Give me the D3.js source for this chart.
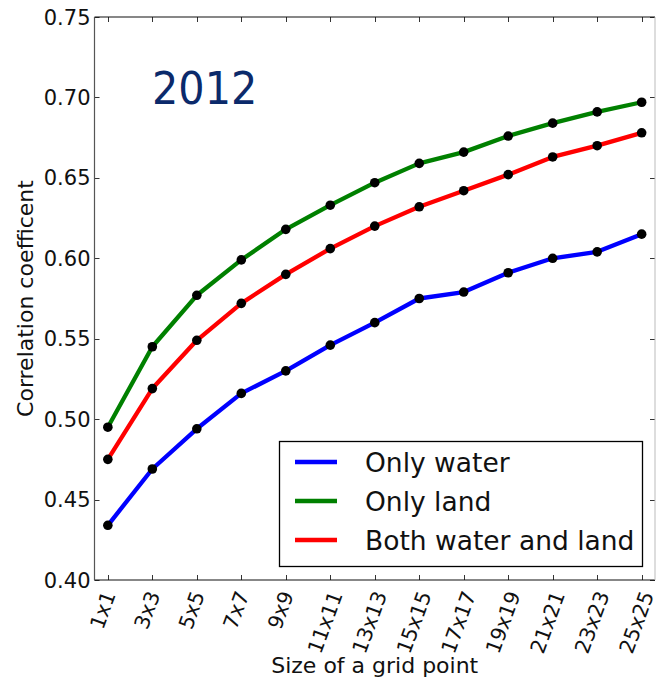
<!DOCTYPE html>
<html>
<head>
<meta charset="utf-8">
<script src="https://cdn.jsdelivr.net/npm/d3@7"></script>
<style>
  html, body { margin: 0; padding: 0; background: #fff; }
  svg { display: block; }
  text { font-family: "DejaVu Sans", sans-serif; fill: #111; }
</style>
</head>
<body>
<svg id="chart" width="656" height="682"></svg>
<script>
// Grid-point window sizes along the x axis
const categories = ["1x1", "3x3", "5x5", "7x7", "9x9", "11x11", "13x13",
                    "15x15", "17x17", "19x19", "21x21", "23x23", "25x25"];

// Correlation coefficient per window size
const onlyWater = [0.434, 0.469, 0.494, 0.516, 0.530, 0.546, 0.560,
                   0.575, 0.579, 0.591, 0.600, 0.604, 0.615];
const onlyLand  = [0.495, 0.545, 0.577, 0.599, 0.618, 0.633, 0.647,
                   0.659, 0.666, 0.676, 0.684, 0.691, 0.697];
const both      = [0.475, 0.519, 0.549, 0.572, 0.590, 0.606, 0.620,
                   0.632, 0.642, 0.652, 0.663, 0.670, 0.678];

const yTicks = [0.40, 0.45, 0.50, 0.55, 0.60, 0.65, 0.70, 0.75];

const seriesNames  = ["Only water", "Only land", "Both water and land"];
const seriesColors = ["#0000ff", "#008000", "#ff0000"];
const seriesValues = [onlyWater, onlyLand, both];

const yearLabel = "2012";
const xTitle = "Size of a grid point";
const yTitle = "Correlation coefficent";

const svg = d3.select("#chart");
const plotLeft = 94.5, plotRight = 655, plotTop = 17, plotBottom = 580;

const x = d3.scaleLinear().domain([-0.3, categories.length - 1 + 0.3]).range([plotLeft, plotRight]);
const y = d3.scaleLinear().domain([0.40, 0.75]).range([plotBottom, plotTop]);

// Inward ticks on all four sides
const tickLen = 5;
const ticks = svg.append("g").attr("stroke", "#333").attr("stroke-width", 1);
categories.forEach((c, i) => {
  const px = Math.round(x(i)) + 0.5;
  ticks.append("line").attr("x1", px).attr("x2", px).attr("y1", plotBottom).attr("y2", plotBottom - tickLen);
  ticks.append("line").attr("x1", px).attr("x2", px).attr("y1", plotTop).attr("y2", plotTop + tickLen);
});
yTicks.forEach(v => {
  const py = Math.round(y(v)) + 0.5;
  ticks.append("line").attr("x1", plotLeft).attr("x2", plotLeft + tickLen).attr("y1", py).attr("y2", py);
  ticks.append("line").attr("x1", plotRight).attr("x2", plotRight - tickLen).attr("y1", py).attr("y2", py);
});

// Series lines
const line = d3.line().x((d, i) => x(i)).y(d => y(d));
seriesValues.forEach((vals, k) => {
  svg.append("path").datum(vals)
    .attr("d", line)
    .attr("fill", "none")
    .attr("stroke", seriesColors[k])
    .attr("stroke-width", 4.3)
    .attr("stroke-linejoin", "round")
    .attr("stroke-linecap", "round");
});

// Black point markers on top of the lines
seriesValues.forEach(vals => {
  svg.append("g").selectAll("circle").data(vals).join("circle")
    .attr("cx", (d, i) => x(i))
    .attr("cy", d => y(d))
    .attr("r", 4.8)
    .attr("fill", "#000");
});

// Frame
svg.append("line").attr("x1", plotLeft).attr("x2", plotRight).attr("y1", plotTop).attr("y2", plotTop)
  .attr("stroke", "#111").attr("stroke-width", 1.2);
svg.append("line").attr("x1", plotLeft).attr("x2", plotRight).attr("y1", plotBottom).attr("y2", plotBottom)
  .attr("stroke", "#111").attr("stroke-width", 1.2);
svg.append("line").attr("x1", plotLeft).attr("x2", plotLeft).attr("y1", plotTop).attr("y2", plotBottom)
  .attr("stroke", "#555").attr("stroke-width", 1.2);
svg.append("line").attr("x1", plotRight).attr("x2", plotRight).attr("y1", plotTop).attr("y2", plotBottom)
  .attr("stroke", "#bbb").attr("stroke-width", 1);

// Y tick labels
svg.append("g").selectAll("text").data(yTicks).join("text")
  .attr("x", plotLeft - 4)
  .attr("y", d => y(d))
  .attr("dy", "0.36em")
  .attr("text-anchor", "end")
  .attr("font-size", 21)
  .text(d => d.toFixed(2));

// X tick labels, rotated and centred under each tick
categories.forEach((c, i) => {
  const g = svg.append("g");
  g.append("text")
    .attr("transform", "rotate(-70)")
    .attr("text-anchor", "middle")
    .attr("font-size", 20.5)
    .text(c);
  const b = g.node().getBBox();
  g.attr("transform", `translate(${x(i) - 5 - (b.x + b.width / 2)},${plotBottom + 8 - b.y})`);
});

// Axis titles
svg.append("text")
  .attr("x", (plotLeft + plotRight) / 2).attr("y", 673)
  .attr("text-anchor", "middle").attr("font-size", 22)
  .text(xTitle);
svg.append("text")
  .attr("transform", `translate(33,${(plotTop + plotBottom) / 2}) rotate(-90)`)
  .attr("text-anchor", "middle").attr("font-size", 22)
  .text(yTitle);

// Year annotation
svg.append("text")
  .attr("transform", "translate(152,104) scale(0.92,1)")
  .attr("font-family", "'Liberation Sans', Arial, sans-serif")
  .attr("font-size", 45)
  .style("fill", "#0b2a6b")
  .text(yearLabel);

// Legend
const lg = svg.append("g");
lg.append("rect").attr("x", 279.5).attr("y", 441.5).attr("width", 363).attr("height", 125)
  .attr("fill", "#fff").attr("stroke", "#000").attr("stroke-width", 1.3);
seriesNames.forEach((name, k) => {
  const ly = 462 + k * 39;
  lg.append("line").attr("x1", 295).attr("x2", 337).attr("y1", ly).attr("y2", ly)
    .attr("stroke", seriesColors[k]).attr("stroke-width", 4.3);
  lg.append("text").attr("x", 365).attr("y", ly).attr("dy", "0.36em")
    .attr("font-size", 26.5).text(name);
});
</script>
</body>
</html>
